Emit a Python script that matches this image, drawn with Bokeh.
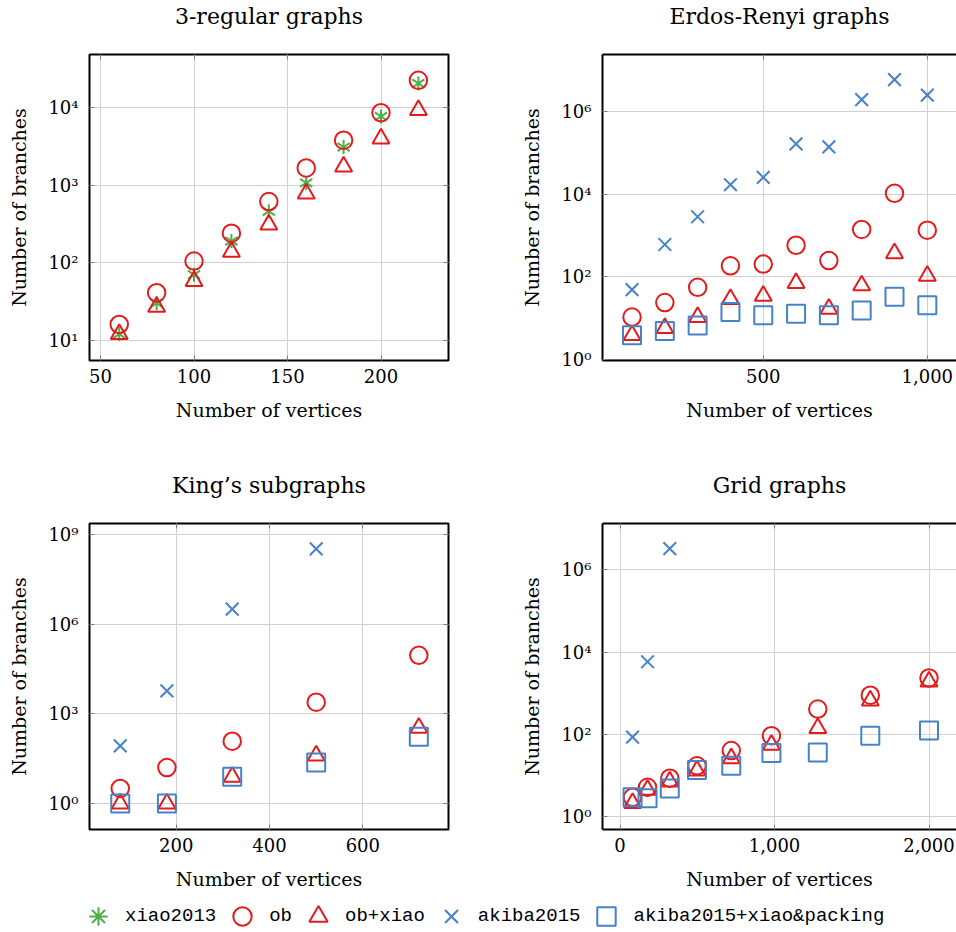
from bokeh.plotting import figure
from bokeh.models import (Range1d, FixedTicker, CustomJSTickFormatter, NumeralTickFormatter,
                          LogAxis, LinearAxis, Legend, LegendItem)
from bokeh.layouts import column, row
from bokeh.embed import file_html
from bokeh.resources import INLINE
import math

# ---------------- data ----------------
reg_n = [60, 80, 100, 120, 140, 160, 180, 200, 220]
reg_xiao2013 = [12, 30, 70, 190, 460, 1070, 3100, 7700, 20500]
reg_ob = [16, 41, 105, 240, 615, 1670, 3800, 8600, 22500]
reg_obxiao = [12, 27, 58, 138, 310, 780, 1740, 4000, 9300]

er_n = [100, 200, 300, 400, 500, 600, 700, 800, 900, 1000]
er_ob = [10.7, 24, 56, 185, 203, 580, 247, 1400, 10400, 1340]
er_obxiao = [3.9, 5.8, 10.7, 29, 35, 71, 17, 62, 372, 106]
er_akiba = [49, 605, 2830, 16800, 25300, 163000, 138000, 1.9e6, 5.8e6, 2.45e6]
er_akiba_pack = [3.9, 4.9, 6.7, 14.2, 11.8, 12.9, 11.8, 15.5, 33, 20.6]

king_n = [80, 180, 320, 500, 720]
king_ob = [3.2, 16, 122, 2450, 91000]
king_obxiao = [1, 1, 7.8, 40, 340]
king_akiba_n = [80, 180, 320, 500]
king_akiba = [85, 5860, 3.2e6, 3.3e8]
king_akiba_pack = [1, 1, 7.8, 23.5, 170]

grid_n = [81, 178, 322, 498, 720, 980, 1280, 1620, 2000]
grid_ob = [2.9, 5.1, 8.5, 17, 40, 92, 410, 890, 2350]
grid_obxiao = [2.1, 4.4, 7, 13, 26, 55, 141, 660, 1900]
grid_akiba_n = [81, 178, 322]
grid_akiba = [85, 5800, 3.3e6]
grid_akiba_pack = [2.9, 2.75, 4.8, 13.5, 17, 35, 36, 92, 123]

titles = ["3-regular graphs", "Erdos-Renyi graphs", "King\u2019s subgraphs", "Grid graphs"]
x_label = "Number of vertices"
y_label = "Number of branches"
series_labels = ["xiao2013", "ob", "ob+xiao", "akiba2015", "akiba2015+xiao&packing"]

reg_xticks = [50, 100, 150, 200]
er_xticks = [500, 1000]
king_xticks = [200, 400, 600]
grid_xticks = [0, 1000, 2000]
reg_yticks = [10, 100, 1000, 10000]
er_yticks = [1, 100, 1e4, 1e6]
king_yticks = [1, 1e3, 1e6, 1e9]
grid_yticks = [1, 100, 1e4, 1e6]

# ---------------- style ----------------
GREEN = "#4DAF4A"
RED = "#E41A1C"
BLUE = "#4682C8"
SERIF = "DejaVu Serif"
MONO = "Liberation Mono"

sup_js = """
const s = {"0":"\u2070","1":"\u00b9","2":"\u00b2","3":"\u00b3","4":"\u2074","5":"\u2075",
           "6":"\u2076","7":"\u2077","8":"\u2078","9":"\u2079","-":"\u207b"};
const e = Math.round(Math.log10(tick));
return "10" + String(e).split("").map(c => s[c]).join("");
"""


def style_axis(ax, ticker, fmt=None):
    ax.ticker = ticker
    if fmt is not None:
        ax.formatter = fmt
    ax.major_tick_in = 5
    ax.major_tick_out = 0
    ax.minor_tick_in = 0
    ax.minor_tick_out = 0
    ax.major_tick_line_color = "#7f7f7f"
    ax.major_tick_line_width = 1
    ax.major_label_text_font = SERIF
    ax.major_label_text_font_size = "18px"
    ax.major_label_text_color = "black"
    ax.axis_label_text_font = SERIF
    ax.axis_label_text_font_size = "19px"
    ax.axis_label_text_font_style = "normal"
    ax.axis_label_text_color = "black"


def tick_only_axis(cls, ticker, tick_in=5, tick_out=0, color="#7f7f7f"):
    ax = cls(ticker=ticker, formatter=CustomJSTickFormatter(code="return '';"))
    ax.major_tick_in = tick_in
    ax.major_tick_out = tick_out
    ax.minor_tick_in = 0
    ax.minor_tick_out = 0
    ax.major_tick_line_color = color
    ax.major_label_standoff = 0
    ax.major_label_text_font_size = "2px"
    return ax


def make_panel(title, xr, yr, xticks, yticks, xfmt, w, h, bl, bt, bb, full_box):
    br = 70 if full_box else 0
    p = figure(width=w, height=h, x_range=Range1d(*xr), y_range=Range1d(*yr),
               y_axis_type="log", output_backend="svg", toolbar_location=None,
               min_border_left=bl, min_border_right=br,
               min_border_top=bt, min_border_bottom=bb, title=title)
    p.title.text_font = SERIF
    p.title.text_font_size = "22px"
    p.title.text_font_style = "normal"
    p.title.text_color = "black"
    p.title.align = "center"
    p.title.standoff = 0
    xt = FixedTicker(ticks=xticks)
    yt = FixedTicker(ticks=yticks)
    yfmt = CustomJSTickFormatter(code=sup_js)
    style_axis(p.xaxis[0], xt, xfmt)
    style_axis(p.yaxis[0], yt, yfmt)
    p.xaxis.axis_label = x_label
    p.yaxis.axis_label = y_label
    p.xaxis.major_label_standoff = 8
    p.yaxis.major_label_standoff = 11
    p.xaxis.axis_label_standoff = 13
    p.yaxis.axis_label_standoff = 15
    p.add_layout(tick_only_axis(LinearAxis, xt), "above")
    if full_box:
        p.add_layout(tick_only_axis(LogAxis, yt), "right")
        p.outline_line_color = "black"
        p.outline_line_width = 2
        for ax in p.axis:
            ax.axis_line_color = None
    else:
        p.outline_line_color = None
        for ax in p.axis:
            ax.axis_line_color = "black"
            ax.axis_line_width = 2
    # invisible spacer between the frame and the title
    spacer = tick_only_axis(LinearAxis, xt, tick_in=0, tick_out=26, color=None)
    spacer.axis_line_color = None
    p.add_layout(spacer, "above")
    p.xgrid.ticker = xt
    p.ygrid.ticker = yt
    p.grid.grid_line_color = "#d0d0d0"
    p.grid.grid_line_width = 1
    return p


def add_xiao(p, xs, ys, size=14):
    r1 = p.scatter(xs, ys, marker="y", size=size, line_color=GREEN, line_width=2)
    r2 = p.scatter(xs, ys, marker="y", size=size, angle=math.pi, line_color=GREEN, line_width=2)
    return [r1, r2]


def add_ob(p, xs, ys):
    return [p.scatter(xs, ys, marker="circle", size=17.5, line_color=RED, fill_color=None, line_width=2)]


def add_obxiao(p, xs, ys):
    return [p.scatter(xs, ys, marker="triangle", size=17, line_color=RED, fill_color=None, line_width=2)]


def add_akiba(p, xs, ys):
    return [p.scatter(xs, ys, marker="x", size=18, line_color=BLUE, line_width=2)]


def add_pack(p, xs, ys):
    return [p.scatter(xs, ys, marker="square", size=18, line_color=BLUE, fill_color=None, line_width=2)]


comma = NumeralTickFormatter(format="0,0")

ROW1_H, ROW1_TOP, ROW1_BOT = 469, 54, 109
ROW2_H, ROW2_TOP, ROW2_BOT = 431, 54, 71

p1 = make_panel(titles[0], (44.1, 236.1), (10 ** 0.739, 10 ** 4.685), reg_xticks, reg_yticks,
                None, 518, ROW1_H, 89, ROW1_TOP, ROW1_BOT, True)
add_xiao(p1, reg_n, reg_xiao2013)
add_ob(p1, reg_n, reg_ob)
add_obxiao(p1, reg_n, reg_obxiao)

p2 = make_panel(titles[1], (10, 1089), (10 ** -0.02, 10 ** 7.37), er_xticks, er_yticks,
                comma, 438, ROW1_H, 81, ROW1_TOP, ROW1_BOT, False)
add_ob(p2, er_n, er_ob)
add_obxiao(p2, er_n, er_obxiao)
add_akiba(p2, er_n, er_akiba)
add_pack(p2, er_n, er_akiba_pack)

p3 = make_panel(titles[2], (14.1, 783.6), (10 ** -0.87, 10 ** 9.37), king_xticks, king_yticks,
                None, 518, ROW2_H, 89, ROW2_TOP, ROW2_BOT, True)
add_ob(p3, king_n, king_ob)
add_obxiao(p3, king_n, king_obxiao)
add_akiba(p3, king_akiba_n, king_akiba)
add_pack(p3, king_n, king_akiba_pack)

p4 = make_panel(titles[3], (-113.6, 2178), (10 ** -0.32, 10 ** 7.13), grid_xticks, grid_yticks,
                comma, 438, ROW2_H, 81, ROW2_TOP, ROW2_BOT, False)
add_ob(p4, grid_n, grid_ob)
add_obxiao(p4, grid_n, grid_obxiao)
add_akiba(p4, grid_akiba_n, grid_akiba)
add_pack(p4, grid_n, grid_akiba_pack)

# ---------------- legend (proxy renderers lie outside the visible ranges) ----------------
lf = figure(width=956, height=32, x_range=(0, 1), y_range=(0, 1), x_axis_type=None,
            y_axis_type=None, min_border=0, output_backend="svg", toolbar_location=None)
lf.outline_line_color = None
lf.background_fill_alpha = 0
lf.border_fill_alpha = 0
proxies = [[lf.scatter(reg_n, reg_xiao2013, marker="asterisk", line_color=GREEN, line_width=2)],
           add_ob(lf, reg_n, reg_ob),
           add_obxiao(lf, reg_n, reg_obxiao),
           add_akiba(lf, er_n, er_akiba),
           add_pack(lf, er_n, er_akiba_pack)]
items = [LegendItem(label=lab, renderers=rs) for lab, rs in zip(series_labels, proxies)]
leg = Legend(items=items, orientation="horizontal", location=(75, -7),
             glyph_width=46, glyph_height=46, label_standoff=4, spacing=3,
             padding=0, margin=0, border_line_color=None, background_fill_alpha=0,
             label_text_font=MONO, label_text_font_size="19px", label_text_color="black",
             label_height=20, label_width=10)
lf.add_layout(leg)

layout = column(row(p1, p2), row(p3, p4), lf)
open("out.html", "w").write(file_html(layout, INLINE))
